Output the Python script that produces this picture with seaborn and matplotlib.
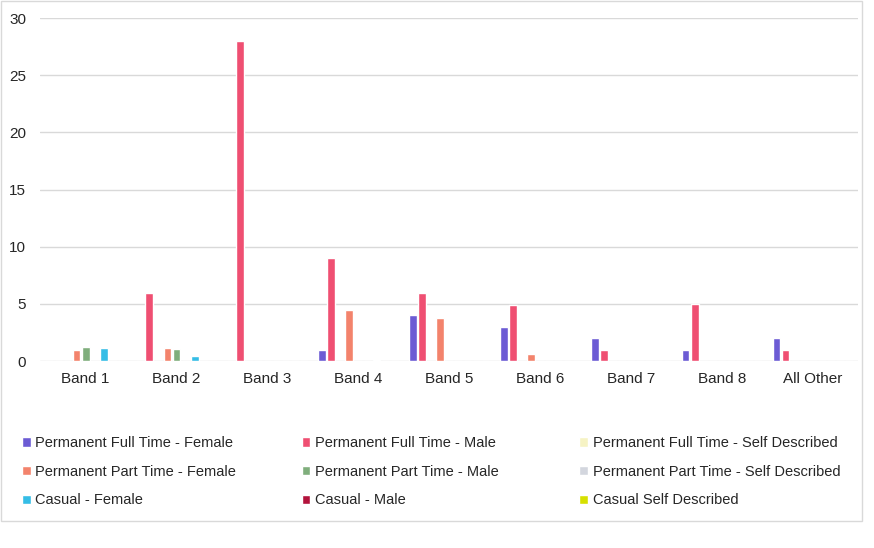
import numpy as np
import pandas as pd
import matplotlib.pyplot as plt
import seaborn as sns

# bands along the x axis
bands = ["Band 1", "Band 2", "Band 3", "Band 4", "Band 5", "Band 6", "Band 7", "Band 8", "All Other"]

# staff counts per band, one list per series
pft_female = [0, 0, 0, 1, 4, 3, 2, 1, 2]
pft_male = [0, 6, 28, 9, 6, 4.9, 1, 5, 1]
pft_self = [0, 0, 0, 0, 0, 0, 0, 0, 0]
ppt_female = [1, 1.15, 0, 4.45, 3.75, 0.6, 0, 0, 0]
ppt_male = [1.25, 1.05, 0, 0, 0, 0, 0, 0, 0]
ppt_self = [0, 0, 0, 0, 0, 0, 0, 0, 0]
casual_female = [1.15, 0.45, 0, 0.1, 0, 0, 0, 0, 0]
casual_male = [0, 0, 0, 0, 0, 0, 0, 0, 0]
casual_self = [0, 0, 0, 0, 0, 0, 0, 0, 0]

series_names = [
    "Permanent Full Time - Female",
    "Permanent Full Time - Male",
    "Permanent Full Time - Self Described",
    "Permanent Part Time - Female",
    "Permanent Part Time - Male",
    "Permanent Part Time - Self Described",
    "Casual - Female",
    "Casual - Male",
    "Casual Self Described",
]
series_values = [pft_female, pft_male, pft_self, ppt_female, ppt_male, ppt_self,
                 casual_female, casual_male, casual_self]
colors = ["#6c5bd4", "#ef4f72", "#f6f3c4", "#f3836c", "#7fae7c", "#d3d6de",
          "#35bde6", "#b3123c", "#d6e000"]

# long table for seaborn
rows = []
for name, vals in zip(series_names, series_values):
    for band, v in zip(bands, vals):
        rows.append({"Band": band, "Series": name, "Count": v})
df = pd.DataFrame(rows)

sns.set_style("white")
plt.rcParams["font.family"] = ["Liberation Sans", "DejaVu Sans"]

fig = plt.figure(figsize=(8.74, 5.48), dpi=100)
ax = fig.add_axes([0.046, 0.341, 0.936, 0.626])

sns.barplot(data=df, x="Band", y="Count", hue="Series", order=bands,
            hue_order=series_names, palette=colors, width=0.9, gap=0.15,
            saturation=1, errorbar=None, ax=ax)

ax.set_ylim(0, 30)
ax.set_yticks(range(0, 31, 5))
ax.yaxis.grid(True, color="#d9d9d9", linewidth=1)
ax.set_axisbelow(True)
for s in ax.spines.values():
    s.set_visible(False)
ax.set_xlabel("")
ax.set_ylabel("")
ax.tick_params(axis="both", length=0, labelsize=11, colors="#262626")
ax.tick_params(axis="y", pad=10)
ax.tick_params(axis="x", pad=8)

# legend: three columns placed separately, read row by row
handles, labels = ax.get_legend_handles_labels()
ax.get_legend().remove()
col_x = [0.010, 0.330, 0.648]
for c in range(3):
    idx = [c, c + 3, c + 6]
    leg = fig.legend([handles[i] for i in idx], [labels[i] for i in idx],
                     loc="upper left", bbox_to_anchor=(col_x[c], 0.228), ncol=1,
                     frameon=False, fontsize=10.5, handlelength=0.6, handleheight=0.6,
                     handletextpad=0.3, labelspacing=1.0, labelcolor="#262626")

# thin chart border
fig.patches.append(plt.Rectangle((0.001, 0.05), 0.985, 0.948, transform=fig.transFigure,
                                 fill=False, edgecolor="#d9d9d9", linewidth=1))

fig.savefig("out.png", dpi=100)
